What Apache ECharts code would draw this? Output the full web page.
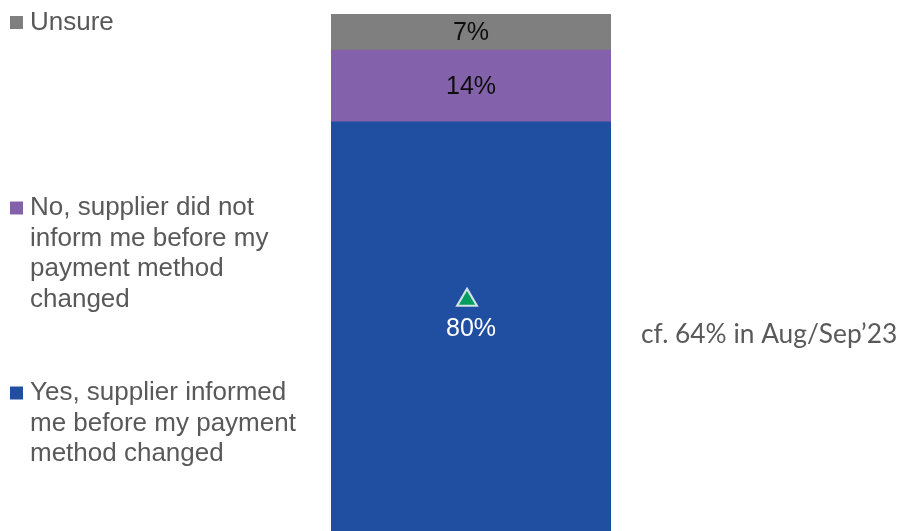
<!DOCTYPE html>
<html>
<head>
<meta charset="utf-8">
<title>Payment method change notice</title>
<script src="https://cdn.jsdelivr.net/npm/echarts@6/dist/echarts.min.js"></script>
<style>
  html, body { margin: 0; padding: 0; background: #ffffff; }
  #chart { width: 901px; height: 531px; }
</style>
</head>
<body>
<div id="chart"></div>
<script>
// Single stacked bar: was the customer told before the payment method changed?
const categories = ['Informed before change'];
const seriesNames = ['Yes', 'No', 'Unsure'];
const yesValues = [80];
const noValues = [14];
const unsureValues = [7];
const legendLabels = [
  ['Unsure'],
  ['No, supplier did not', 'inform me before my', 'payment method', 'changed'],
  ['Yes, supplier informed', 'me before my payment', 'method changed']
];
const legendColours = ['#7f7f7f', '#8462ab', '#204fa2'];
const comparisonNote = 'cf. 64% in Aug/Sep\u201923';
const axisMax = 101;

const chart = echarts.init(document.getElementById('chart'), null, { renderer: 'canvas' });

const labelFont = { fontFamily: '"Liberation Sans", Arial, sans-serif', fontSize: 25 };

// Legend blocks sit on the left; squares line up with the first line of each entry
const legendTops = [7.5, 193, 378];
const legendGraphics = [];
legendLabels.forEach((lines, i) => {
  const top = legendTops[i];
  legendGraphics.push({
    type: 'rect',
    left: 10,
    top: top + 8.5,
    shape: { width: 13, height: 13 },
    style: { fill: legendColours[i] }
  });
  legendGraphics.push({
    type: 'text',
    left: 30,
    top: top,
    style: {
      text: lines.join('\n'),
      fill: '#595959',
      font: '26px "Liberation Sans", Arial, sans-serif',
      lineHeight: 30.5
    }
  });
});

legendGraphics.push({
  type: 'text',
  left: 641,
  top: 322,
  style: {
    text: comparisonNote,
    fill: '#595959',
    font: '26.3px Lato, "Open Sans", sans-serif'
  }
});

// Segments meet on fractional pixels; a 1px same-colour shadow pushed upward
// sits under the next segment and closes the anti-aliasing seam between them
function segmentStyle(colour, closeSeam) {
  const style = { color: colour };
  if (closeSeam) {
    style.shadowColor = colour;
    style.shadowBlur = 0;
    style.shadowOffsetY = -1.5;
  }
  return style;
}

chart.setOption({
  animation: false,
  backgroundColor: '#ffffff',
  grid: { left: 331, right: 290, top: 14, bottom: 0 },
  xAxis: {
    type: 'category',
    data: categories,
    show: false
  },
  yAxis: {
    type: 'value',
    min: 0,
    max: axisMax,
    show: false
  },
  graphic: legendGraphics,
  series: [
    {
      name: seriesNames[0],
      type: 'bar',
      stack: 'total',
      barWidth: '100%',
      data: yesValues,
      itemStyle: segmentStyle(legendColours[2], true),
      label: {
        show: true,
        position: 'inside',
        offset: [0, 3],
        color: '#ffffff',
        ...labelFont,
        formatter: p => p.value + '%'
      }
    },
    {
      name: seriesNames[1],
      type: 'bar',
      stack: 'total',
      data: noValues,
      itemStyle: segmentStyle(legendColours[1], true),
      label: {
        show: true,
        position: 'inside',
        offset: [0, 1],
        color: '#0d0d0d',
        ...labelFont,
        formatter: p => p.value + '%'
      }
    },
    {
      name: seriesNames[2],
      type: 'bar',
      stack: 'total',
      data: unsureValues,
      itemStyle: segmentStyle(legendColours[0], false),
      label: {
        show: true,
        position: 'inside',
        offset: [0, 1],
        color: '#0d0d0d',
        ...labelFont,
        formatter: p => p.value + '%'
      }
    },
    {
      // Upward marker: significant increase versus the previous wave
      name: 'change',
      type: 'scatter',
      silent: true,
      symbol: 'triangle',
      symbolSize: [20, 17],
      symbolOffset: [-4, -29],
      data: [[categories[0], yesValues[0] / 2]],
      itemStyle: { color: '#00b050', borderColor: '#ffffff', borderWidth: 2 },
      z: 5
    }
  ]
});
</script>
</body>
</html>
